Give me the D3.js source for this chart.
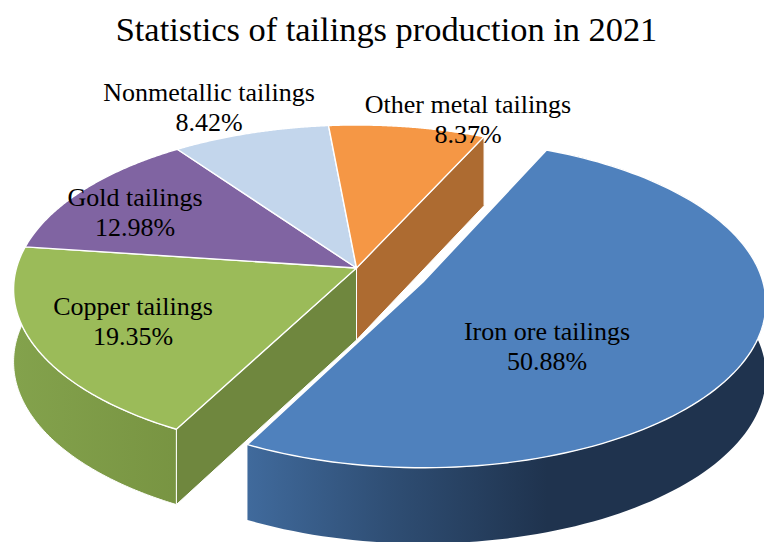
<!DOCTYPE html>
<html>
<head>
<meta charset="utf-8">
<script src="https://cdn.jsdelivr.net/npm/d3@7"></script>
<style>
  html, body { margin: 0; padding: 0; background: #fff; overflow: hidden; }
  text { font-family: "Liberation Serif", serif; fill: #000; }
</style>
</head>
<body>
<svg id="chart" width="764" height="542"></svg>
<script>
// Tailings production shares, 2021
const categories = ["Iron ore tailings", "Copper tailings", "Gold tailings", "Nonmetallic tailings", "Other metal tailings"];
const shares = [50.88, 19.35, 12.98, 8.42, 8.37];
const topColors = ["#4f81bd", "#9bbb59", "#8064a2", "#c3d6ec", "#f59745"];
const labelCentres = [[547, 340], [133, 315], [135, 206], [209, 101], [468, 113]];

const W = 764, H = 542;
const svg = d3.select("#chart").attr("viewBox", [0, 0, W, H]);

// Tilted-disc projection: the near side of the pie is drawn larger than the far side
const RX = 340, RY = 161.6, PERSP = 0.13, DEPTH = 72, DEPTH_PERSP = 0.05;
const pivot = { x: 356.5, y: 268, twist: -0.2 * Math.PI / 180 };
// The pulled-out slice is seen from a slightly different bearing
const explodedPivot = { x: 423, y: 282, twist: -1.0 * Math.PI / 180 };

function project(theta, r, origin, drop) {
  const a = theta + origin.twist;
  const u = r * Math.sin(a), v = r * Math.cos(a), w = 1 + PERSP * v;
  return [
    origin.x + RX * u / w,
    origin.y - RY * v / w + (drop ? DEPTH / (1 + DEPTH_PERSP * v) : 0)
  ];
}

const pie = d3.pie().sort(null)
  .startAngle(25 * Math.PI / 180)
  .endAngle((360 + 25) * Math.PI / 180);
const slices = pie(shares);
const line = d3.line();

const rim = (a0, a1, origin, drop) =>
  d3.range(0, 121).map(i => project(a0 + (a1 - a0) * i / 120, 1, origin, drop));

const topPath = (s, origin) =>
  line([[origin.x, origin.y], ...rim(s.startAngle, s.endAngle, origin, false)]) + "Z";

const outerWall = (s, origin) =>
  line([...rim(s.startAngle, s.endAngle, origin, false), ...rim(s.startAngle, s.endAngle, origin, true).reverse()]) + "Z";

// Flat cut face running from the pie's axis out to the rim at one angle
const cutFace = (angle, origin) => line([
  [origin.x, origin.y],
  project(angle, 1, origin, false),
  project(angle, 1, origin, true),
  [origin.x, origin.y + DEPTH]
]) + "Z";

const defs = svg.append("defs");
function wallGradient(id, x1, x2, stops) {
  const g = defs.append("linearGradient").attr("id", id)
    .attr("gradientUnits", "userSpaceOnUse")
    .attr("x1", x1).attr("x2", x2).attr("y1", 0).attr("y2", 0);
  stops.forEach(([o, c]) => g.append("stop").attr("offset", o).attr("stop-color", c));
}
wallGradient("wall-iron", 248, 600, [[0, "#406a9c"], [0.4, "#2f4e74"], [0.85, "#1f334e"], [1, "#1f334e"]]);
wallGradient("wall-copper", 14, 180, [[0, "#83a24c"], [1, "#789442"]]);

const [iron, copper, gold, nonmetal, other] = slices;
const edge = { stroke: "#fff", "stroke-width": 1.4, "stroke-linejoin": "round" };
const paint = (d, fill, width = edge["stroke-width"]) => svg.append("path")
  .attr("d", d).attr("fill", fill)
  .attr("stroke", edge.stroke).attr("stroke-width", width)
  .attr("stroke-linejoin", edge["stroke-linejoin"]);

// Side walls of the pie body, back to front
paint(cutFace(other.endAngle - 2 * Math.PI, pivot), "#ad6b31", 1);
paint(cutFace(copper.startAngle, pivot), "#6f873e", 1);
paint(outerWall(copper, pivot), "url(#wall-copper)", 1);

// Top faces of the four slices that stay in place
[copper, gold, nonmetal, other].forEach((s, i) =>
  paint(topPath(s, pivot), topColors[i + 1]));

// Exploded iron ore slice
svg.append("path").attr("d", outerWall(iron, explodedPivot)).attr("fill", "url(#wall-iron)");
paint(topPath(iron, explodedPivot), topColors[0]);

// Data labels: category name with its share below
const labels = svg.append("g").attr("text-anchor", "middle").attr("font-size", 26);
categories.forEach((name, i) => {
  const [x, y] = labelCentres[i];
  labels.append("text").attr("x", x).attr("y", y).text(name);
  labels.append("text").attr("x", x).attr("y", y + 30).text(d3.format(".2f")(shares[i]) + "%");
});

svg.append("text")
  .attr("x", 386.5).attr("y", 41)
  .attr("text-anchor", "middle").attr("font-size", 34.4)
  .text("Statistics of tailings production in 2021");
</script>
</body>
</html>
